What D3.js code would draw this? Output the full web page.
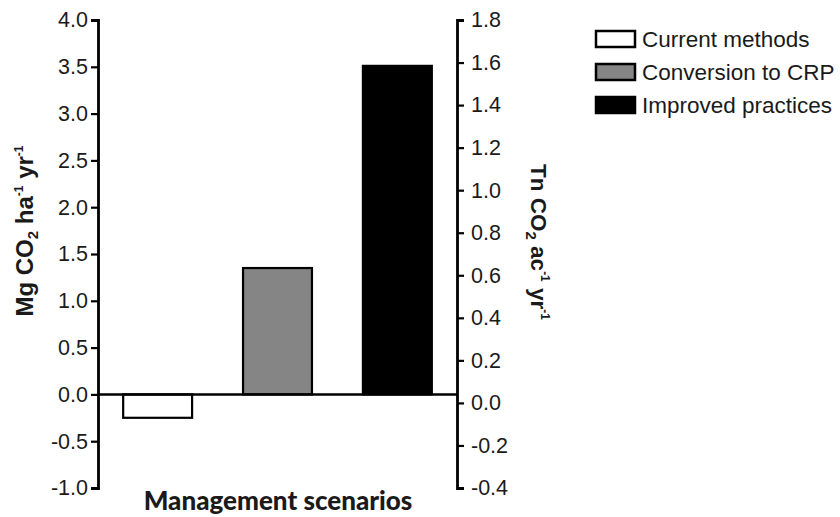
<!DOCTYPE html>
<html><head><meta charset="utf-8">
<script src="https://cdn.jsdelivr.net/npm/d3@7"></script>
<style>
body{margin:0;background:#fff;}
svg text{font-family:"Liberation Sans",Arial,sans-serif;fill:#1a1a1a;}
</style></head>
<body><svg id="c" width="840" height="517"></svg>
<script>
const categories = ["Current methods","Conversion to CRP","Improved practices"];
const values = [-0.25, 1.35, 3.51];
const fills = ["#ffffff","#858585","#000000"];
const leftTicks = [-1.0,-0.5,0.0,0.5,1.0,1.5,2.0,2.5,3.0,3.5,4.0];
const rightTicks = [-0.4,-0.2,0.0,0.2,0.4,0.6,0.8,1.0,1.2,1.4,1.6,1.8];

const svg = d3.select("#c");
const L = 98, R = 457, T = 20, B = 488;
const y = d3.scaleLinear().domain([-1,4]).range([B,T]);
const y2 = d3.scaleLinear().domain([-0.4,1.8]).range([B,T]);
const x = d3.scaleBand().domain(categories).range([L,R]).paddingInner(0.425).paddingOuter(0.21);
const fmt = d => d.toFixed(1);

// bars
svg.selectAll("rect.bar").data(categories).join("rect")
  .attr("x", d=>x(d)).attr("width", x.bandwidth())
  .attr("y", (d,i)=>y(Math.max(0,values[i])))
  .attr("height", (d,i)=>Math.abs(y(values[i])-y(0)))
  .attr("fill",(d,i)=>fills[i]).attr("stroke","#000").attr("stroke-width",2.2);

// zero line
svg.append("line").attr("x1",L).attr("x2",R).attr("y1",y(0)).attr("y2",y(0))
  .attr("stroke","#000").attr("stroke-width",2.5);

function styleAxis(g){
  g.select(".domain").attr("stroke","#000").attr("stroke-width",2.8);
  g.selectAll(".tick line").attr("stroke","#000").attr("stroke-width",2.2);
  g.selectAll(".tick text").style("font-size","21.5px").style("font-family","'Liberation Sans',Arial,sans-serif").attr("fill","#1a1a1a");
}
const gl = svg.append("g").attr("transform",`translate(${L},0)`)
  .call(d3.axisLeft(y).tickValues(leftTicks).tickFormat(fmt).tickSize(7).tickSizeOuter(7).tickPadding(3));
styleAxis(gl);
const gr = svg.append("g").attr("transform",`translate(${R},0)`)
  .call(d3.axisRight(y2).tickValues(rightTicks).tickFormat(fmt).tickSize(7).tickSizeOuter(7).tickPadding(7));
styleAxis(gr);

// left title
const lt = svg.append("text").attr("transform","translate(33,231) rotate(-90)")
  .attr("text-anchor","middle").style("font-weight","bold").style("font-size","24px");
lt.append("tspan").text("Mg CO");
lt.append("tspan").text("2").style("font-size","15px").attr("dy",5);
lt.append("tspan").text(" ha").attr("dy",-5);
lt.append("tspan").text("-1").style("font-size","12px").attr("dy",-10);
lt.append("tspan").text(" yr").attr("dy",10);
lt.append("tspan").text("-1").style("font-size","12px").attr("dy",-10);

// right title
const rt = svg.append("text").attr("transform","translate(531,242) rotate(90)")
  .attr("text-anchor","middle").style("font-weight","bold").style("font-size","22.5px");
rt.append("tspan").text("Tn CO");
rt.append("tspan").text("2").style("font-size","15px").attr("dy",5);
rt.append("tspan").text(" ac").attr("dy",-5);
rt.append("tspan").text("-1").style("font-size","12px").attr("dy",-10);
rt.append("tspan").text(" yr").attr("dy",10);
rt.append("tspan").text("-1").style("font-size","12px").attr("dy",-10);

// x title
svg.append("text").attr("x",278).attr("y",510).attr("text-anchor","middle")
  .style("font-family","Lato, 'Open Sans', sans-serif").style("font-weight","900").style("font-size","26px")
  .text("Management scenarios");

// legend
const lg = svg.append("g").selectAll("g").data(categories).join("g")
  .attr("transform",(d,i)=>`translate(596,${31+i*33})`);
lg.append("rect").attr("width",39).attr("height",16).attr("fill",(d,i)=>fills[i])
  .attr("stroke","#000").attr("stroke-width",2.5);
lg.append("text").attr("x",46).attr("y",8).attr("dy","0.35em").style("font-size","22.5px").text(d=>d);
</script></body></html>
